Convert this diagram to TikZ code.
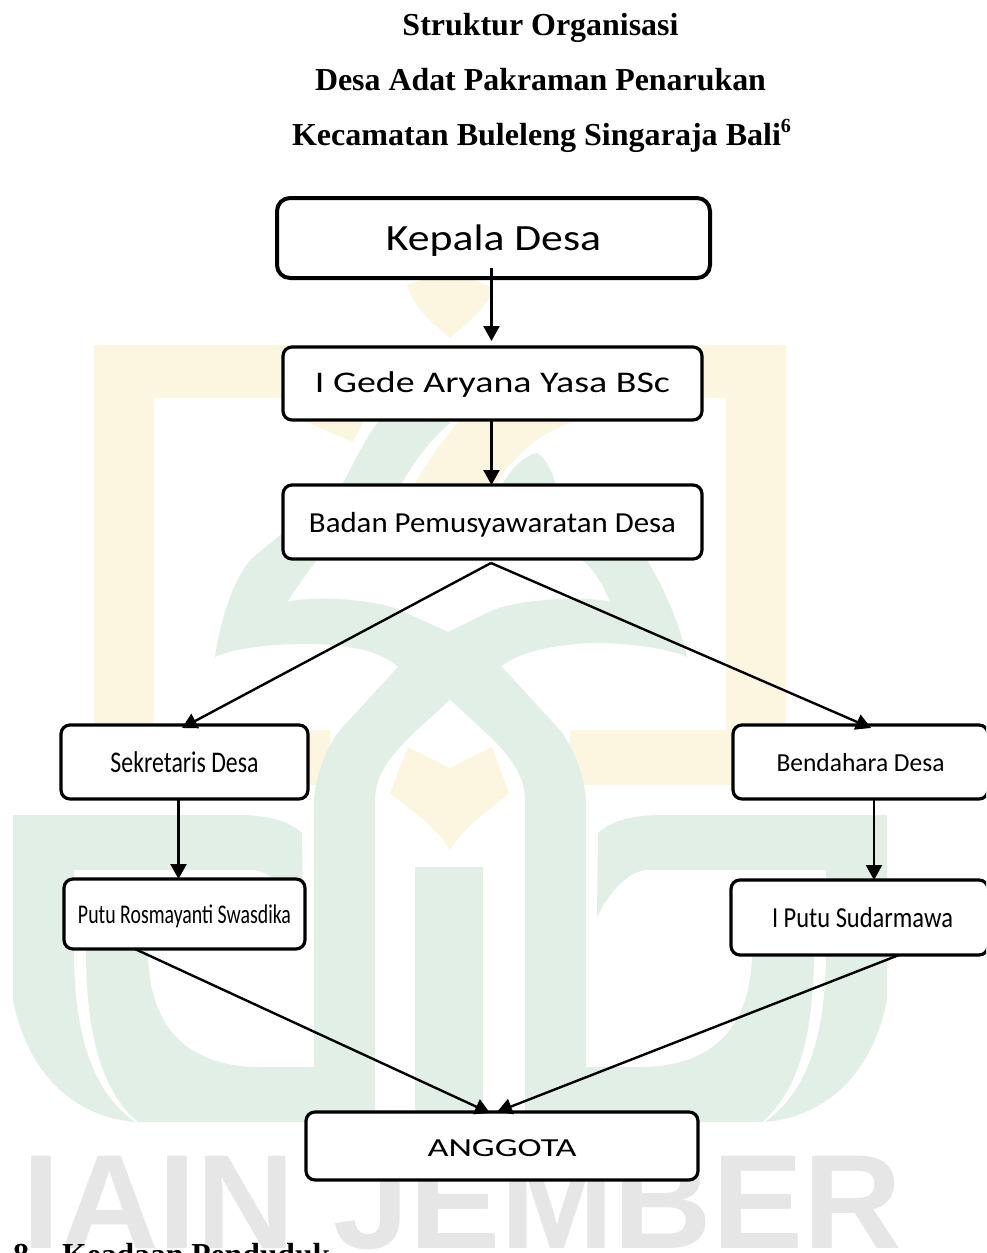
\documentclass[tikz,border=0pt]{standalone}
\usepackage{graphicx}
\usepackage{fontspec}
\setmainfont{Liberation Serif}
\newfontfamily\boxfont{Carlito}
\newfontfamily\wmfont{Liberation Sans}
\usetikzlibrary{arrows.meta}
\definecolor{wmgreen}{HTML}{E2EFE7}
\definecolor{wmyellow}{HTML}{FCF6E0}
\definecolor{wmgrey}{HTML}{E6E6E6}
\newcommand{\wmhalf}{%
  \fill[wmgreen] (13,815) -- (239,815) .. controls (270,815) and (290,822) .. (302,833) -- (303,917) .. controls (290,890) and (270,870) .. (252,870) -- (74,870) -- (74,950) .. controls (74,1030) and (90,1090) .. (135,1122) .. controls (85,1118) and (30,1085) .. (13,1000) -- cycle;
  \fill[wmgreen] (86,900) -- (148,900) -- (148,950) .. controls (148,1030) and (190,1067) .. (260,1067) -- (314,1067) -- (314,800) .. controls (316,775) and (325,750) .. (340,730) -- (398,667) -- (450.5,650) -- (450.5,699) -- (417,730) .. controls (390,755) and (375,775) .. (375,800) -- (375,1122) -- (138,1122) .. controls (100,1090) and (86,1030) .. (86,950) -- cycle;
}
\begin{document}
\begin{tikzpicture}[x=1pt,y=-1pt,
  orgbox/.style={draw=black,fill=white,rectangle,rounded corners=9pt,line width=3.2pt,inner sep=0pt,outer sep=0pt,anchor=north west,align=center,text=black},
  link/.style={draw=black,line width=2.4pt,-{Triangle[length=15pt,width=16pt]}},
  headline/.style={anchor=base,inner sep=0pt,font=\bfseries\fontsize{32}{32}\selectfont}]
\useasboundingbox (0,0) rectangle (986,1253);
\clip (0,0) rectangle (986,1253);
\fill[white] (0,0) rectangle (986,1253);
% watermark: yellow
\fill[wmyellow] (94,345) rectangle (786,398);
\fill[wmyellow] (94,345) rectangle (154,785);
\fill[wmyellow] (726,345) rectangle (786,785);
\fill[wmyellow] (94,730) rectangle (330,785);
\fill[wmyellow] (570,730) rectangle (786,785);
\fill[wmyellow] (283,398) -- (283,412) -- (353,442) -- (375,398) -- cycle;
\fill[wmyellow] (470,398) -- (457,423) .. controls (440,445) and (425,465) .. (415,484) -- (415,500) -- (487,500) -- (500,477) .. controls (525,445) and (545,432) .. (570,423) -- (617,398) -- cycle;
\fill[wmyellow] (407,285) -- (450,270) -- (494,288) .. controls (485,310) and (465,325) .. (450,338) .. controls (435,325) and (415,310) .. (407,285) -- cycle;
\fill[wmyellow] (408,747) -- (450,768) -- (492,747) -- (509,793) .. controls (490,810) and (465,825) .. (450,850) .. controls (435,825) and (410,810) .. (390,793) -- cycle;
% watermark: green
\wmhalf
\begin{scope}[shift={(900,0)},xscale=-1]\wmhalf\end{scope}
\fill[wmgreen] (415,867) rectangle (483,1122);
\fill[wmgreen] (215,657) .. controls (222,610) and (235,580) .. (250,560) -- (343,483) .. controls (355,460) and (365,440) .. (377,423) -- (420,400) -- (450,423) .. controls (430,440) and (415,460) .. (402,483) -- (317,560) .. controls (305,575) and (295,590) .. (287,602) .. controls (310,596) and (370,598) .. (400,610) -- (448,632) -- (493,610) .. controls (525,598) and (590,596) .. (610,602) .. controls (603,585) and (595,570) .. (582,560) -- (503,483) .. controls (512,468) and (525,455) .. (537,453) .. controls (545,458) and (552,470) .. (555,483) -- (647,560) .. controls (665,590) and (680,625) .. (687,657) .. controls (660,645) and (600,640) .. (567,645) .. controls (540,648) and (515,655) .. (500,667) -- (398,667) .. controls (385,655) and (365,648) .. (333,645) .. controls (300,642) and (240,645) .. (215,657) -- cycle;
% watermark: letters
\node[anchor=base west,inner sep=0pt,text=wmgrey,font=\wmfont\bfseries\fontsize{134}{134}\selectfont] (wmtext) at (22,1248) {\resizebox{880pt}{\height}{IAIN JEMBER}};
% title
\node[headline] (t1) at (540.5,35) {\resizebox{276pt}{\height}{Struktur Organisasi}};
\node[headline] (t2) at (540.5,90) {\resizebox{451pt}{\height}{Desa Adat Pakraman Penarukan}};
\node[headline] (t3) at (541.5,145) {\resizebox{499pt}{\height}{Kecamatan Buleleng Singaraja Bali\raisebox{13pt}{\fontsize{20}{20}\selectfont 6}}};
% footer
\node[headline,anchor=base west] (f1) at (13,1265) {8.};
\node[headline,anchor=base west] (f2) at (62,1265) {\resizebox{268pt}{\height}{Keadaan Penduduk}};
% boxes
\node[orgbox,line width=4pt,rounded corners=13pt,minimum width=433pt,text height=52.7pt,text depth=27.3pt,font=\boxfont\fontsize{37}{37}\selectfont] (kepala) at (277,198) {\resizebox{215pt}{\height}{Kepala Desa}};
\node[orgbox,minimum width=419pt,text height=45.7pt,text depth=27.3pt,font=\boxfont\fontsize{30}{30}\selectfont] (gede) at (283,347) {\resizebox{355pt}{\height}{I Gede Aryana Yasa BSc}};
\node[orgbox,minimum width=419pt,text height=47.7pt,text depth=26.3pt,font=\boxfont\fontsize{29}{29}\selectfont] (badan) at (283,485) {\resizebox{367pt}{\height}{Badan Pemusyawaratan Desa}};
\node[orgbox,minimum width=247pt,text height=47.7pt,text depth=26.3pt,font=\boxfont\fontsize{30}{30}\selectfont] (sek) at (61,725) {\resizebox{148pt}{\height}{Sekretaris Desa}};
\node[orgbox,minimum width=255pt,text height=46.7pt,text depth=27.3pt,font=\boxfont\fontsize{26}{26}\selectfont] (bend) at (733,725) {\resizebox{168pt}{\height}{Bendahara Desa}};
\node[orgbox,minimum width=241pt,text height=44pt,text depth=26pt,font=\boxfont\fontsize{27}{27}\selectfont] (putu) at (64,879) {\resizebox{213pt}{\height}{Putu Rosmayanti Swasdika}};
\node[orgbox,minimum width=257pt,text height=47.7pt,text depth=27.3pt,font=\boxfont\fontsize{29}{29}\selectfont] (iputu) at (731,880) {\hspace*{6pt}\resizebox{181pt}{\height}{I Putu Sudarmawa}};
\node[orgbox,minimum width=392pt,text height=44pt,text depth=24pt,font=\boxfont\fontsize{26}{26}\selectfont] (anggota) at (306,1112) {\resizebox{149pt}{\height}{ANGGOTA}};
% connectors
\draw[link] ([xshift=-2pt,yshift=10pt]kepala.south) -- ([xshift=-1pt,yshift=6pt]gede.north);
\draw[link] ([xshift=-1pt]gede.south) -- ([xshift=-1pt]badan.north);
\draw[link] ([xshift=-1.5pt,yshift=-4pt]badan.south) -- ([xshift=-2.5pt,yshift=-3pt]sek.north);
\draw[link] ([xshift=-1.5pt,yshift=-4pt]badan.south) -- ([xshift=10.5pt,yshift=-3pt]bend.north);
\draw[link] ([xshift=-6pt]sek.south) -- ([xshift=-6pt]putu.north);
\draw[link] ([xshift=13.5pt]bend.south) -- ([xshift=14.5pt]iputu.north);
\draw[link] ([xshift=-49.5pt]putu.south) -- ([xshift=-12pt,yshift=-1pt]anggota.north);
\draw[link] ([xshift=39.5pt]iputu.south) -- ([xshift=-5pt]anggota.north);
\end{tikzpicture}
\end{document}
